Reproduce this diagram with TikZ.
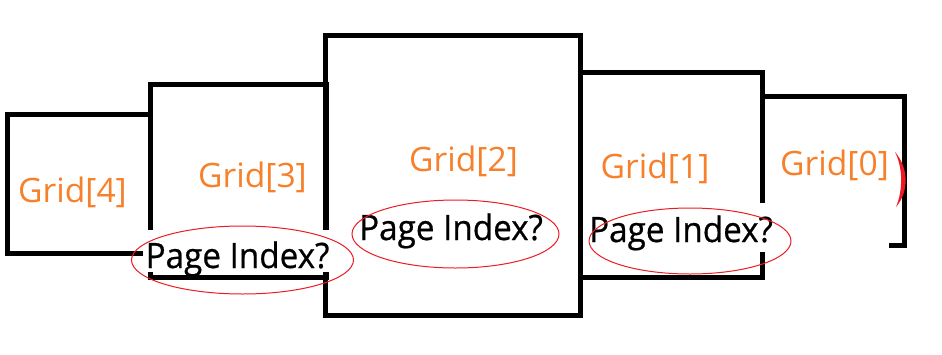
\documentclass[tikz,border=0pt]{standalone}
\usepackage{fontspec}
\setmainfont{Open Sans}
\newfontfamily\pagefont{Open Sans}[FakeBold=0.6]
\definecolor{gridorange}{RGB}{247,128,42}
\definecolor{paintred}{RGB}{237,28,36}
\tikzset{
  boxline/.style={draw=black, line width=5pt},
  gridlabel/.style={text=gridorange, font=\fontsize{33.6}{36}\selectfont, inner sep=0pt, anchor=base},
  pagelabel/.style={text=black, font=\pagefont\fontsize{35}{38}\selectfont, inner sep=0pt, anchor=base},
  ring/.style={draw=paintred, line width=1pt},
  mask/.style={fill=white}
}
\begin{document}
\begin{tikzpicture}[x=1pt,y=-1pt]
\useasboundingbox (0,0) rectangle (942,354);
\fill[white] (0,0) rectangle (942,354);
% boxes
\draw[boxline] (7.5,114.5) rectangle (150,253.5);
\draw[boxline] (150,84.5) rectangle (326,277.5);
\draw[boxline] (325.5,35) rectangle (580,315.5);
\draw[boxline] (580,72.5) rectangle (762.5,277.5);
\draw[boxline] (762.5,96) -- (904.5,96) -- (904.5,245.5) -- (762.5,245.5);
% text backgrounds
\fill[mask] (143,230) rectangle (335,272);
\fill[mask] (585,203) rectangle (889,252);
% grid labels
\node[gridlabel] (l4) at (72.5,202) {Grid[4]};
\node[gridlabel] (l3) at (252.5,187) {Grid[3]};
\node[gridlabel] (l2) at (463.5,171) {Grid[2]};
\node[gridlabel] (l1) at (655,178) {Grid[1]};
\node[gridlabel] (l0) at (834.5,175) {Grid[0]};
% page index labels
\node[pagelabel] (p3) at (237.5,268) {\scalebox{0.95}[1]{Page Index?}};
\node[pagelabel] (p2) at (451,240) {\scalebox{0.95}[1]{Page Index?}};
\node[pagelabel] (p1) at (681,242) {\scalebox{0.95}[1]{Page Index?}};
% ellipses
\draw[ring] (242.5,260) ellipse [x radius=111, y radius=34];
\draw[ring] (455.5,234) ellipse [x radius=103.5, y radius=34];
\draw[ring] (690,241) ellipse [x radius=101, y radius=33];
% red arc fragment
\fill[paintred] (895,152) .. controls (909,168) and (909,192) .. (896,207)
  .. controls (903,190) and (903,168) .. (895,152) -- cycle;
\end{tikzpicture}
\end{document}
